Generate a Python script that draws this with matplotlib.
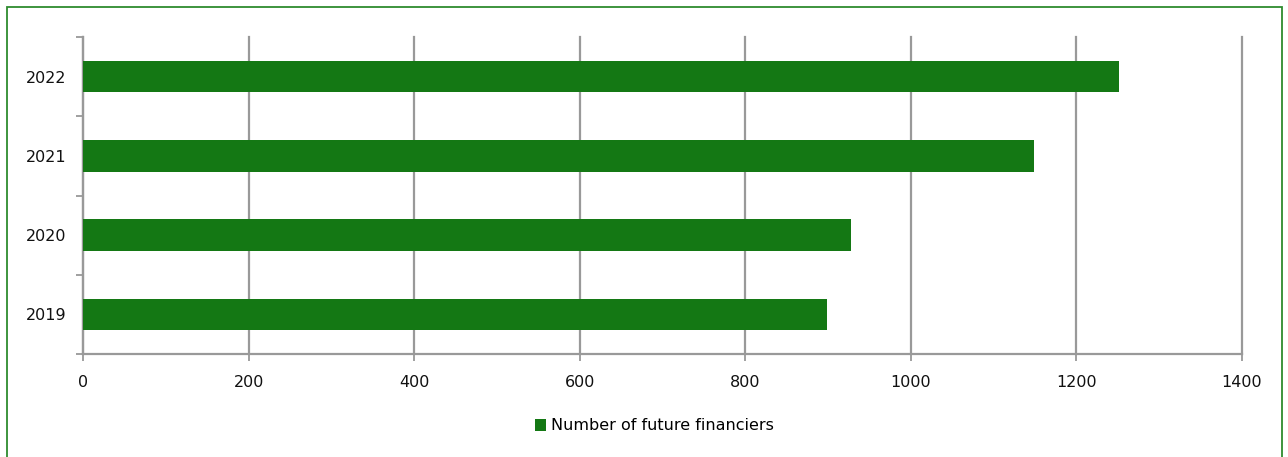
import matplotlib
matplotlib.use("Agg")
import matplotlib.pyplot as plt
from matplotlib.patches import Rectangle
import numpy as np

years = ["2019", "2020", "2021", "2022"]
financiers = [899, 928, 1149, 1251]
x_ticks = [0, 200, 400, 600, 800, 1000, 1200, 1400]
series_label = "Number of future financiers"

bar_color = "#147814"
grid_color = "#999999"
W, H = 1288, 457

plt.rcParams['font.family'] = ['DejaVu Sans']
fig = plt.figure(figsize=(W / 100, H / 100), dpi=100)
fig.patch.set_facecolor("white")

# figure border
fig.add_artist(Rectangle((7 / W, -0.05), (1282 - 7) / W, 1 - 7 / H + 0.05,
                         transform=fig.transFigure, fill=False,
                         edgecolor="#2e8b2e", linewidth=1.3))

ax = fig.add_axes([83 / W, 1 - 354 / H, (1242 - 83) / W, (354 - 37) / H])
y = np.arange(len(years))
ax.barh(y, financiers, height=0.4, color=bar_color, label=series_label, zorder=3)

ax.set_xlim(0, 1400)
ax.set_ylim(-0.5, len(years) - 0.5)
ax.set_xticks(x_ticks)
ax.set_xticklabels([str(v) for v in x_ticks])
ax.xaxis.grid(True, color=grid_color, linewidth=1.6, zorder=0)
for gl in ax.get_xgridlines():
    gl.set_clip_on(False)

ax.set_yticks(np.arange(-0.5, len(years), 1.0))
ax.set_yticklabels([])
ax.set_yticks(y, minor=True)
ax.set_yticklabels(years, minor=True)
ax.tick_params(axis='y', which='major', length=5, width=1.3, color=grid_color, direction='out')
ax.tick_params(axis='y', which='minor', length=0, pad=12, labelsize=11.5, labelcolor="#111111")
ax.tick_params(axis='x', length=5, width=1.3, color=grid_color, pad=10, labelsize=11.5, labelcolor="#111111")

for s in ["top", "right"]:
    ax.spines[s].set_visible(False)
for s in ["left", "bottom"]:
    ax.spines[s].set_color(grid_color)
    ax.spines[s].set_linewidth(1.6)

fig.legend(loc="center", bbox_to_anchor=(654 / W, 1 - 426 / H), frameon=False,
           fontsize=11.5, handlelength=0.7, handleheight=0.7, handletextpad=0.3)

fig.savefig("out.png", dpi=100, facecolor="white")
